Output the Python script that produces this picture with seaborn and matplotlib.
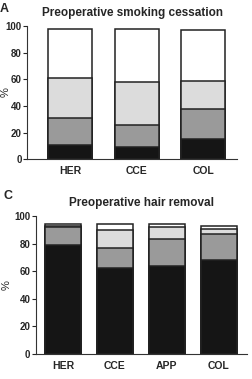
import numpy as np
import pandas as pd
import matplotlib
matplotlib.use('Agg')
import matplotlib.pyplot as plt
import seaborn as sns

sns.set_style('ticks')
plt.rcParams['font.family'] = ['Liberation Sans', 'DejaVu Sans']

# Panel A: preoperative smoking cessation (segment heights, bottom to top)
groups_a = ['HER', 'CCE', 'COL']
a_black = [11, 9, 15]
a_dark = [20, 17, 23]
a_light = [30, 32, 21]
a_white = [37, 40, 38]

# Panel C: preoperative hair removal
groups_c = ['HER', 'CCE', 'APP', 'COL']
c_black = [79, 62, 64, 68]
c_dark = [13, 15, 19, 19]
c_light = [1, 13, 9, 3.5]
c_white = [1.5, 4.5, 2.5, 2.5]

seg_colors = ['#151515', '#9a9a9a', '#dcdcdc', '#ffffff']


def stacked(ax, groups, segments, width):
    df = pd.DataFrame(dict(zip(['s0', 's1', 's2', 's3'], segments)), index=groups)
    cum = df.cumsum(axis=1)
    # draw tallest first so lower segments overlay
    for col, color in zip(cum.columns[::-1], seg_colors[::-1]):
        sns.barplot(x=cum.index, y=cum[col].values, color=color, width=width,
                    edgecolor='#222222', linewidth=1.1, saturation=1, ax=ax)
    ax.set_ylim(0, 100)
    ax.set_yticks(range(0, 101, 20))
    ax.set_ylabel('')
    ax.set_xlabel('')
    sns.despine(ax=ax)
    ax.tick_params(axis='x', length=0, labelsize=7.5, pad=5)
    ax.tick_params(axis='y', length=3, width=0.8, labelsize=7, pad=1)
    for lab in ax.get_xticklabels() + ax.get_yticklabels():
        lab.set_fontweight('bold')
    for sp in ['left', 'bottom']:
        ax.spines[sp].set_linewidth(0.8)
        ax.spines[sp].set_color('#333333')


fig = plt.figure(figsize=(2.53, 3.79), dpi=100)
ax_a = fig.add_axes([0.107, 0.580, 0.830, 0.351])
ax_c = fig.add_axes([0.142, 0.066, 0.834, 0.364])

stacked(ax_a, groups_a, [a_black, a_dark, a_light, a_white], 0.66)
ax_a.set_xlim(-0.65, 2.51)
ax_a.set_title('Preoperative smoking cessation', fontsize=8.5, fontweight='bold', pad=7)

stacked(ax_c, groups_c, [c_black, c_dark, c_light, c_white], 0.69)
ax_c.set_xlim(-0.52, 3.54)
ax_c.set_title('Preoperative hair removal', fontsize=8.5, fontweight='bold', pad=7)

fig.text(0.0, 0.977, 'A', fontsize=9, fontweight='bold', va='center')
fig.text(0.012, 0.483, 'C', fontsize=9, fontweight='bold', va='center')
fig.text(0.024, 0.757, '%', fontsize=8, rotation=90, ha='center', va='center')
fig.text(0.026, 0.248, '%', fontsize=8, rotation=90, ha='center', va='center')

fig.savefig('out.png', dpi=100)
